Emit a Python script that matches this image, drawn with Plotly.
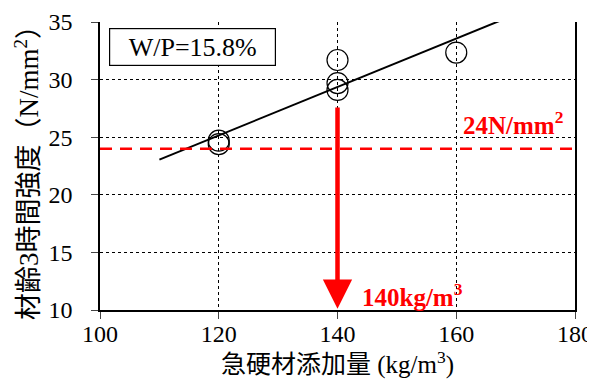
import numpy as np
import plotly.graph_objects as go

# data
dosage = [120, 120, 140, 140, 140, 160]
strength = [24.7, 24.4, 31.7, 29.7, 29.1, 32.35]
target_strength = 24
target_dosage = 140
x_ticks = [100, 120, 140, 160, 180]
y_ticks = [10, 15, 20, 25, 30, 35]

slope, intercept = np.polyfit(dosage, strength, 1)
fit_x = [110, 172]
fit_y = [slope * v + intercept for v in fit_x]

SERIF = "Liberation Serif, Noto Sans CJK JP"

fig = go.Figure()
fig.add_trace(go.Scatter(x=fit_x, y=fit_y, mode="lines",
                         line=dict(color="black", width=2), showlegend=False))
fig.add_trace(go.Scatter(x=dosage, y=strength, mode="markers",
                         marker=dict(symbol="circle-open", size=21, color="black",
                                     line=dict(width=1.2, color="black")),
                         showlegend=False, cliponaxis=False))

fig.add_shape(type="line", xref="x", yref="y", x0=100, x1=180,
              y0=target_strength, y1=target_strength,
              line=dict(color="red", width=2.5, dash="12px,8px"))

fig.add_annotation(x=target_dosage, y=10.1, ax=target_dosage, ay=27.7,
                   xref="x", yref="y", axref="x", ayref="y",
                   showarrow=True, arrowhead=2, arrowsize=1.3, arrowwidth=4.5,
                   arrowcolor="red", text="", standoff=0)

fig.add_annotation(x=169.5, y=26.25, xref="x", yref="y", text="<b>24N/mm<sup>2</sup></b>",
                   showarrow=False, xanchor="center", yanchor="middle",
                   font=dict(family=SERIF, size=25, color="red"))
fig.add_annotation(x=152.6, y=11.3, xref="x", yref="y", text="<b>140kg/m<sup>3</sup></b>",
                   showarrow=False, xanchor="center", yanchor="middle",
                   font=dict(family=SERIF, size=25, color="red"))

fig.add_annotation(x=115.5, y=32.8, xref="x", yref="y", text="W/P=15.8%",
                   showarrow=False, xanchor="center", yanchor="middle",
                   font=dict(family=SERIF, size=26, color="black"),
                   bordercolor="black", borderwidth=1.2, borderpad=1,
                   bgcolor="white", width=163, height=34)

fig.update_xaxes(range=[100, 180], tickvals=x_ticks, ticks="outside", ticklen=7,
                 tickwidth=1.2, showline=True, linecolor="black", linewidth=1.5,
                 showgrid=True, gridcolor="black", gridwidth=0.8, griddash="3px,3px",
                 zeroline=False, automargin=False, ticklabelstandoff=-6,
                 title=dict(text="急硬材添加量 (kg/m<sup>3</sup>)", font=dict(family=SERIF, size=25, color="black"),
                            standoff=6),
                 tickfont=dict(family=SERIF, size=24, color="black"))
fig.update_yaxes(range=[10, 35], tickvals=y_ticks, ticks="outside", ticklen=7,
                 tickwidth=1.2, showline=True, linecolor="black", linewidth=1.5, mirror=True,
                 showgrid=True, gridcolor="black", gridwidth=0.8, griddash="3px,3px",
                 zeroline=False, automargin=False, ticklabelstandoff=14,
                 title=dict(text="材齢3時間強度（N/mm<sup>2</sup>）", font=dict(family=SERIF, size=27, color="black"),
                            standoff=2),
                 tickfont=dict(family=SERIF, size=24, color="black"))

# page body has an 8px default margin; size the figure to fit the 595x383 window
fig.update_layout(width=587, height=375, margin=dict(l=92, r=20, t=14, b=73),
                  plot_bgcolor="white", paper_bgcolor="white")

fig.write_html("out.html")
